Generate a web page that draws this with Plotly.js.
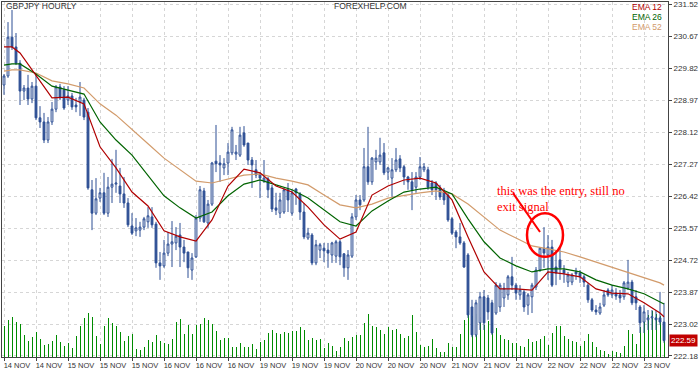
<!DOCTYPE html>
<html><head><meta charset="utf-8">
<script src="https://cdn.plot.ly/plotly-3.0.1.min.js"></script>
<style>html,body{margin:0;padding:0;background:#fff;} #chart{width:700px;height:370px;}</style>
</head><body><div id="chart"></div>
<script>
const tickLabels = ["14 NOV","14 NOV","15 NOV","15 NOV","15 NOV","16 NOV","16 NOV","16 NOV","19 NOV","19 NOV","19 NOV","20 NOV","20 NOV","20 NOV","21 NOV","21 NOV","21 NOV","22 NOV","22 NOV","22 NOV","23 NOV"];
const barsPerTick = 8;

const open = [229.37,229.61,230.64,230.38,229.95,229.21,229.29,229.00,229.34,228.50,
228.39,227.91,228.39,228.73,229.32,229.24,228.97,229.08,228.84,228.92,
228.97,228.65,226.59,225.97,226.37,226.51,225.97,226.66,226.74,226.69,
226.48,226.24,225.63,225.50,225.52,225.60,225.74,225.87,225.68,224.65,
224.57,224.91,225.15,225.18,225.39,225.07,224.94,224.46,224.81,225.84,
226.56,225.71,226.21,227.35,227.30,227.17,227.30,227.57,227.54,227.51,
228.10,227.83,227.38,227.12,227.01,226.82,226.88,226.64,226.11,225.97,
226.00,226.59,225.97,226.61,226.48,226.00,225.31,225.39,224.65,224.99,
225.04,224.99,224.86,224.83,225.21,224.89,224.52,224.83,225.87,226.32,
226.32,227.20,226.80,227.33,227.33,227.57,227.06,226.90,227.12,227.41,
227.20,226.93,226.80,226.66,226.93,227.12,227.12,226.77,226.77,226.64,
226.53,226.45,225.82,225.47,225.34,225.18,224.86,223.48,222.74,223.06,
223.75,223.72,223.59,223.32,223.48,223.72,223.80,224.28,224.06,223.80,
223.88,223.53,223.75,224.01,224.46,225.04,224.86,225.07,224.54,224.73,
224.46,224.14,224.14,224.41,224.38,224.28,224.06,223.67,223.40,223.32,
223.53,223.93,223.80,223.85,223.80,223.75,223.98,224.14,223.75,223.48,
223.08,223.14,223.19,223.19,223.19,223.08];
const high = [229.66,231.04,231.36,230.75,230.03,229.37,229.64,229.45,229.69,228.81,
228.63,228.52,228.92,229.37,229.40,229.34,229.34,229.16,229.03,229.45,
229.03,228.76,226.85,226.90,226.64,227.04,226.93,227.41,227.65,227.17,
226.93,226.37,225.97,225.84,225.74,225.87,226.13,226.13,225.74,224.94,
225.26,225.47,225.76,225.60,225.71,225.26,224.94,224.91,225.92,226.69,
226.64,226.32,227.33,228.31,227.51,227.43,227.83,228.26,227.78,228.26,
228.28,227.83,227.46,227.38,227.06,227.38,226.93,226.72,226.51,226.51,
226.64,226.77,226.59,226.64,226.53,226.24,225.58,225.44,225.26,225.18,
225.18,225.18,225.21,225.26,225.26,224.91,224.99,225.97,226.45,226.45,
227.70,228.26,227.46,227.65,227.97,227.83,227.20,227.43,227.70,227.51,
227.25,226.96,227.06,227.06,227.46,227.30,227.20,226.85,226.82,226.72,
226.64,226.51,225.87,225.52,225.71,225.23,224.91,223.67,223.67,223.88,
223.93,223.80,223.67,224.14,224.12,224.12,224.33,224.81,224.12,224.06,
223.93,223.85,224.12,224.54,225.07,225.60,225.39,225.26,224.99,225.07,
224.59,224.41,224.38,224.52,224.46,224.33,224.12,223.72,223.53,223.59,
223.93,223.98,224.06,223.98,223.93,224.17,224.73,224.20,223.93,223.53,
223.53,223.40,223.40,223.40,223.88,223.59];
const low = [229.11,229.56,230.30,229.90,228.84,228.97,228.84,228.89,228.44,228.23,
227.83,227.83,228.31,228.65,228.97,228.71,228.84,228.71,228.65,228.55,
228.44,226.59,225.52,225.92,226.27,225.92,225.87,226.24,226.51,226.24,
226.11,225.60,225.39,225.36,225.34,225.52,225.58,225.58,224.52,224.20,
224.52,224.83,224.54,224.99,224.54,224.67,224.25,224.20,224.78,225.74,
225.71,225.58,226.16,227.06,226.80,226.98,226.98,227.51,227.38,227.46,
227.73,227.25,226.64,226.90,226.37,226.77,226.37,226.00,225.92,225.84,
225.95,226.00,225.90,226.19,225.79,225.28,225.26,224.59,224.59,224.78,
224.67,224.52,224.65,224.65,224.59,224.28,224.20,224.78,225.79,226.05,
226.27,226.72,226.72,227.12,227.25,226.98,226.85,226.40,227.06,227.06,
226.72,226.59,226.05,226.51,226.85,227.06,226.59,226.45,226.32,226.32,
226.19,225.74,225.39,225.04,225.13,224.52,223.19,222.68,222.68,222.87,
222.87,223.14,222.74,223.27,223.35,223.48,223.67,223.93,223.67,223.67,
223.35,223.27,223.32,223.93,224.41,224.52,224.20,224.01,224.06,224.20,
224.12,224.01,224.06,224.20,224.12,224.01,223.59,223.35,223.27,223.27,
223.48,223.75,223.72,223.67,223.59,223.67,223.93,223.53,223.40,222.79,
222.79,222.87,222.87,222.87,223.00,222.53];
const close = [229.61,230.64,230.38,229.95,229.21,229.29,229.00,229.34,228.50,228.39,
227.91,228.39,228.73,229.32,229.03,228.76,229.08,228.79,228.79,229.05,
228.52,226.64,225.97,226.35,226.51,225.97,226.66,226.74,226.77,226.48,
226.24,225.66,225.44,225.58,225.60,225.82,225.90,225.66,224.65,224.57,
224.91,225.15,225.21,225.36,225.07,224.91,224.52,224.78,225.84,226.59,
225.74,226.21,227.30,227.28,227.25,227.28,227.59,228.18,227.59,228.04,
227.78,227.38,227.25,226.98,226.90,226.90,226.59,226.08,226.05,226.32,
226.59,226.32,226.51,226.51,226.00,225.34,225.44,224.65,225.13,225.13,
224.97,224.91,225.18,225.21,224.81,224.52,224.86,225.87,226.32,226.19,
227.20,226.80,227.43,227.43,227.51,227.04,227.17,227.12,227.38,227.17,
226.93,226.80,226.59,226.93,227.20,227.20,226.66,226.59,226.59,226.40,
226.32,225.79,225.44,225.34,225.18,224.54,223.27,222.74,223.59,223.75,
223.06,223.35,222.79,224.06,224.06,223.98,224.28,224.06,223.85,223.93,
223.48,223.80,224.06,224.46,225.04,224.91,225.07,224.06,224.38,224.52,
224.38,224.33,224.33,224.36,224.28,224.14,223.67,223.40,223.35,223.48,
223.80,223.80,223.93,223.77,223.72,224.12,224.14,223.59,223.59,223.06,
223.35,223.19,223.22,223.14,223.08,222.59];
const volume = [930,1110,1200,1050,990,660,480,600,750,540,
360,390,480,660,450,330,420,270,630,930,
1170,1320,1200,630,390,930,1170,1020,930,750,
480,630,690,240,210,300,510,450,660,480,
420,390,540,1050,1140,690,960,690,960,990,
1170,1110,990,780,510,570,570,300,300,420,
300,300,390,240,450,510,720,810,720,690,
750,720,780,780,900,810,510,570,510,540,
270,420,330,180,300,570,480,600,660,660,
1020,1290,930,900,810,690,900,810,840,690,
570,630,1260,750,360,300,330,540,270,150,
150,420,300,300,690,1110,1380,1230,1290,1200,
960,1080,1020,870,660,540,510,420,420,330,
300,540,450,480,540,630,360,720,930,930,
630,540,480,450,330,480,690,450,300,210,
180,90,180,150,120,330,800,690,400,900,
1200,1260,1380,1290,1230,780];

const emaIndex = [0,2,4,8,12,16,20,24,28,32,36,40,44,48,52,56,60,64,68,72,76,80,84,88,92,96,100,104,108,112,116,120,124,128,132,136,140,144,148,152,156,160,164,165];
const ema12 = [230.38,230.38,230.22,229.64,229.03,229.05,228.87,227.73,227.17,226.53,226.16,225.50,225.34,225.23,225.79,226.69,227.14,227.04,226.69,226.53,226.13,225.66,225.28,225.47,226.45,226.69,226.85,226.90,226.77,226.32,225.34,224.41,223.96,223.96,223.93,224.41,224.36,224.28,223.96,223.85,223.83,223.59,223.32,223.22];
const ema26 = [229.90,229.93,229.93,229.66,229.34,229.24,229.13,228.39,227.91,227.51,226.96,226.43,226.11,225.84,226.00,226.43,226.74,226.85,226.72,226.59,226.37,226.05,225.74,225.63,226.03,226.29,226.53,226.61,226.66,226.48,225.82,225.21,224.78,224.57,224.41,224.49,224.49,224.41,224.20,224.06,223.96,223.83,223.61,223.56];
const ema52 = [229.74,229.77,229.77,229.69,229.48,229.40,229.29,228.87,228.57,228.20,227.81,227.43,227.12,226.82,226.77,226.88,226.98,227.01,226.90,226.82,226.72,226.45,226.19,226.11,226.21,226.37,226.45,226.51,226.56,226.48,226.21,225.87,225.52,225.31,225.10,225.02,224.94,224.81,224.67,224.54,224.41,224.25,224.12,224.06];

const priceTicks = [231.52,230.67,229.82,228.97,228.12,227.27,226.42,225.57,224.72,223.87,223.02,222.18];
const lastPrice = 222.59;
const noteLines = ["this was the entry, still no", "exit signal"];

const bars = close.map((_, i) => i);
const tickVals = tickLabels.map((_, k) => k * barsPerTick);
const blue = '#2d4f94';
const red = '#b00000', green = '#006400', tan = '#d29b6b';

const traces = [
  {type:'bar', x:bars, y:volume, xaxis:'x', yaxis:'y', width:0.25,
   marker:{color:'#008c00', line:{width:0}}, hoverinfo:'none'},
  {type:'candlestick', x:bars, open:open, high:high, low:low, close:close, xaxis:'x', yaxis:'y2',
   increasing:{line:{color:blue, width:1}, fillcolor:'#ffffff'},
   decreasing:{line:{color:blue, width:1}, fillcolor:blue},
   whiskerwidth:0, hoverinfo:'none'},
  {type:'scatter', mode:'lines', x:emaIndex, y:ema52, xaxis:'x', yaxis:'y2', line:{color:tan, width:1.2}, hoverinfo:'none'},
  {type:'scatter', mode:'lines', x:emaIndex, y:ema26, xaxis:'x', yaxis:'y2', line:{color:green, width:1.2}, hoverinfo:'none'},
  {type:'scatter', mode:'lines', x:emaIndex, y:ema12, xaxis:'x', yaxis:'y2', line:{color:red, width:1.2}, hoverinfo:'none'}
];

const smallFont = 'Liberation Sans, Arial, sans-serif';
const layout = {
  width:700, height:370,
  margin:{l:2, r:32, t:2, b:13, pad:0},
  paper_bgcolor:'#ffffff', plot_bgcolor:'#ffffff',
  showlegend:false, boxgap:0.35, bargap:0,
  font:{family:smallFont, size:9, color:'#333'},
  xaxis:{range:[-0.5,166], tickmode:'array', tickvals:tickVals, ticktext:tickLabels,
    ticks:'outside', ticklen:3, tickcolor:'#444', tickfont:{size:7.5, color:'#333'},
    tickangle:0, ticklabelshift:13, ticklabelstandoff:-2, ticklabeloverflow:'allow',
    showgrid:true, gridcolor:'#d6d6d6', griddash:'3px,3px', gridwidth:1,
    showline:true, linecolor:'#444', linewidth:1, mirror:true, zeroline:false,
    rangeslider:{visible:false}, fixedrange:true},
  yaxis:{range:[0,10560], visible:false, fixedrange:true},
  yaxis2:{overlaying:'y', side:'right', range:[222.153,231.573], tickmode:'array',
    tickvals:priceTicks, ticktext:priceTicks.map(v => v.toFixed(2)),
    ticks:'outside', ticklen:3, tickcolor:'#444', tickfont:{size:8, color:'#333'},
    ticklabeloverflow:'allow', ticklabelstandoff:0,
    showgrid:true, gridcolor:'#d6d6d6', griddash:'3px,3px', gridwidth:1,
    showline:true, linecolor:'#444', linewidth:1, mirror:true, zeroline:false, fixedrange:true},
  annotations:[
    {xref:'paper', yref:'paper', x:0.003, y:0.989, xanchor:'left', yanchor:'middle', showarrow:false,
     text:'GBPJPY HOURLY', font:{family:smallFont, size:8.5, color:'#333'}},
    {xref:'paper', yref:'paper', x:0.553, y:0.989, xanchor:'center', yanchor:'middle', showarrow:false,
     text:'FOREXHELP.COM', font:{family:smallFont, size:8.5, color:'#333'}},
    {xref:'paper', yref:'paper', x:0.943, y:0.986, xanchor:'left', yanchor:'middle', showarrow:false,
     text:'EMA 12', font:{family:smallFont, size:8.5, color:red}},
    {xref:'paper', yref:'paper', x:0.943, y:0.958, xanchor:'left', yanchor:'middle', showarrow:false,
     text:'EMA 26', font:{family:smallFont, size:8.5, color:green}},
    {xref:'paper', yref:'paper', x:0.943, y:0.930, xanchor:'left', yanchor:'middle', showarrow:false,
     text:'EMA 52', font:{family:smallFont, size:8.5, color:tan}},
    {xref:'x', yref:'y2', x:122.75, y:226.56, xanchor:'left', yanchor:'middle', showarrow:false,
     text:noteLines[0], font:{family:'Liberation Serif, Times New Roman, serif', size:12.5, color:'#ff0000'}},
    {xref:'x', yref:'y2', x:122.75, y:226.13, xanchor:'left', yanchor:'middle', showarrow:false,
     text:noteLines[1], font:{family:'Liberation Serif, Times New Roman, serif', size:12.5, color:'#ff0000'}},
    {xref:'paper', yref:'y2', x:1, y:lastPrice, xanchor:'left', yanchor:'middle', xshift:1, showarrow:false,
     text:lastPrice.toFixed(2), bgcolor:'#c00000', borderpad:1, font:{family:smallFont, size:8, color:'#ffffff'}}
  ],
  shapes:[
    {type:'circle', xref:'x', yref:'y2', x0:130.75, x1:139.75, y0:224.81, y1:225.97,
     line:{color:'#ff0000', width:2.5}},
    {type:'line', xref:'x', yref:'y2', x0:127.25, y0:226.50, x1:134.0, y1:225.47,
     line:{color:'#ff0000', width:2}}
  ]
};

Plotly.newPlot('chart', traces, layout, {staticPlot:true, displayModeBar:false});
</script>
</body></html>
